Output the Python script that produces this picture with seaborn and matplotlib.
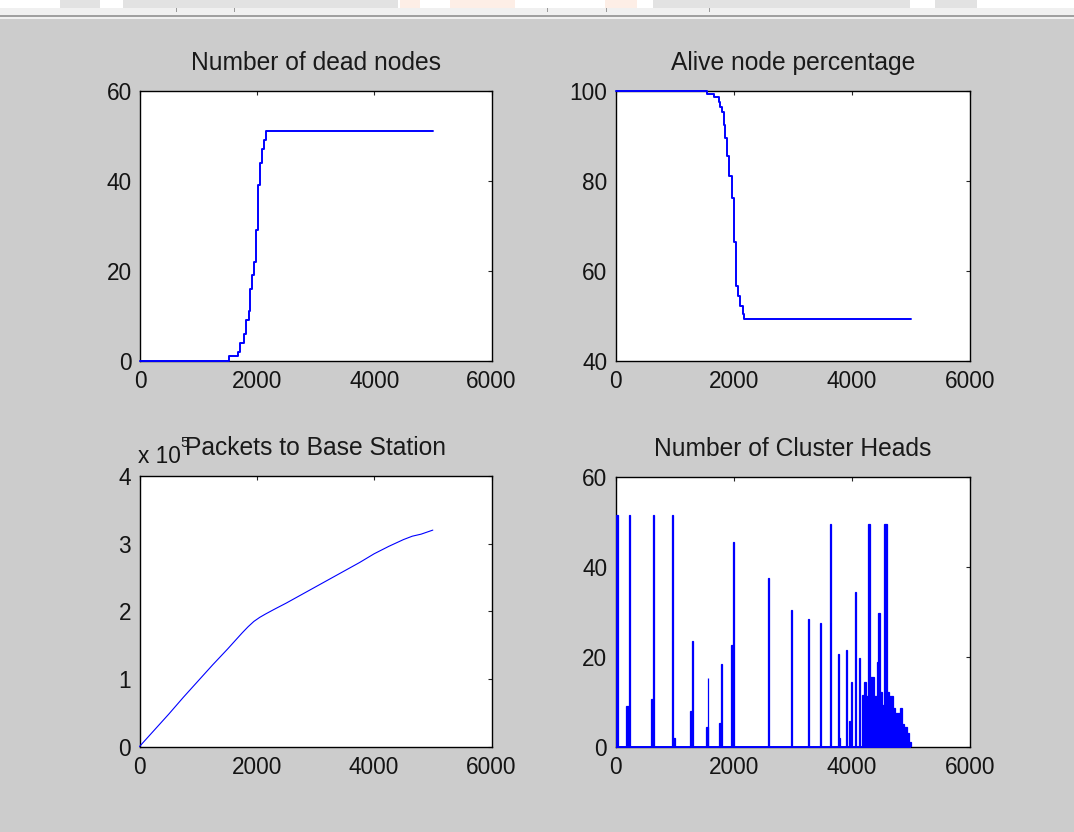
import matplotlib
matplotlib.use('Agg')
import matplotlib.pyplot as plt
import seaborn as sns
from matplotlib.patches import Rectangle
from matplotlib.ticker import FuncFormatter

# values (rounds 0..5000)
dead_round = [0, 1514, 1674, 1714, 1771, 1811, 1857, 1886, 1914, 1943, 1977, 2011, 2046, 2086, 2114, 2149, 5000]
dead_count = [0, 1, 2, 4, 6, 9, 11, 16, 19, 22, 29, 39, 44, 47, 49, 51, 51]

alive_round = [0, 1549, 1673, 1746, 1775, 1803, 1831, 1859, 1887, 1915, 1972, 2000, 2039, 2073, 2113, 2152, 2180, 5000]
alive_pct = [100, 99.3, 98.7, 97.6, 96.4, 95.3, 92.4, 89.4, 85.5, 81.1, 76.1, 66.4, 56.5, 54.4, 52.1, 50.4, 49.2, 49.2]

packet_round = [0, 250, 500, 750, 1000, 1250, 1500, 1750, 1850, 1950, 2050, 2150, 2300, 2500, 2750, 3000,
                3250, 3500, 3750, 4000, 4250, 4500, 4650, 4800, 5000]
packet_count = [0, 24000, 48000, 73000, 97000, 121000, 144000, 168000, 177000, 185000, 191000, 196000,
                203000, 212000, 224000, 236000, 248000, 260000, 272000, 285000, 296000, 306000, 311000,
                314000, 320000]

# cluster heads: spikes / blocks of consecutive rounds (start round, width in rounds, count)
ch_start = [8, 178, 225, 606, 641, 955, 975, 1262, 1297, 1524, 1559, 1750, 1790, 1953, 1988,
            2575, 2970, 3265, 3460, 3630, 3765, 3785, 3895, 3953, 3987, 4052, 4114,
            4178, 4207, 4241, 4281, 4309, 4382, 4422, 4449, 4478, 4507, 4546, 4602, 4636,
            4704, 4732, 4817, 4851, 4885, 4930, 4969]
ch_width = [40, 45, 15, 35, 15, 15, 35, 35, 15, 35, 15, 40, 15, 35, 15,
            15, 15, 15, 15, 15, 15, 20, 15, 17, 20, 18, 22,
            29, 34, 40, 28, 73, 40, 27, 29, 29, 39, 56, 34, 68,
            28, 85, 34, 34, 45, 39, 29]
ch_count = [51.5, 9, 51.5, 10.5, 51.5, 51.5, 2, 8, 23.5, 4.4, 15.3, 5.3, 18.4, 22.6, 45.6,
            37.5, 30.4, 28.3, 27.4, 49.5, 20.5, 2, 21.5, 5.7, 14.4, 34.3, 19.6,
            11.5, 14.4, 11.3, 49.5, 15.4, 11.3, 18.9, 29.7, 12.2, 9.2, 49.5, 12.2, 11.3,
            8.5, 7.5, 8.5, 5.1, 4.4, 3.0, 1.0]
last_round = 5000

titles = ['Number of dead nodes', 'Alive node percentage', 'Packets to Base Station', 'Number of Cluster Heads']

sns.set_style('white')
plt.rcParams['font.family'] = ['Liberation Sans', 'DejaVu Sans']

W, H = 1074, 832
fig = plt.figure(figsize=(W / 100, H / 100), dpi=100, facecolor='#cccccc')


def px_rect(x, y, w, h, color):
    # rectangle given in screen pixels (y from the top)
    fig.add_artist(Rectangle((x / W, 1 - (y + h) / H), w / W, h / H, transform=fig.transFigure,
                             facecolor=color, edgecolor='none', zorder=0))


# window chrome at the top of the screenshot
px_rect(0, 0, W, 8, 'white')
for x0, w0, c in [(60, 40, '#e2e2e2'), (123, 275, '#e2e2e2'), (400, 20, '#fdeee6'), (450, 65, '#fdeee6'),
                  (605, 32, '#fdeee6'), (653, 257, '#e2e2e2'), (935, 42, '#e2e2e2')]:
    px_rect(x0, 0, w0, 8, c)
px_rect(0, 8, W, 8, '#f0f0f0')
px_rect(0, 15, W, 1.5, '#a0a0a0')
px_rect(0, 16.5, W, 2, '#f0f0f0')
for x0 in [176, 234, 547, 606, 709]:
    px_rect(x0, 8, 1, 4, '#9a9a9a')


def px_axes(left, top, right, bottom):
    return fig.add_axes([left / W, 1 - bottom / H, (right - left) / W, (bottom - top) / H])


ax1 = px_axes(140, 90.7, 491.5, 360.7)
ax2 = px_axes(615.5, 90.7, 970, 360.7)
ax3 = px_axes(139.5, 476, 491.5, 746.5)
ax4 = px_axes(615.5, 477, 970, 746.5)

sns.lineplot(x=dead_round, y=dead_count, ax=ax1, color='blue', linewidth=1.4,
             drawstyle='steps-post', zorder=3, clip_on=False)
sns.lineplot(x=alive_round, y=alive_pct, ax=ax2, color='blue', linewidth=1.4,
             drawstyle='steps-post', zorder=3, clip_on=False)
sns.lineplot(x=packet_round, y=packet_count, ax=ax3, color='blue', linewidth=0.8,
             zorder=3, clip_on=False)
ax4.bar(ch_start, ch_count, width=ch_width, align='edge', color='blue', edgecolor='blue',
        linewidth=0.9, zorder=3)
ax4.hlines(0, 0, last_round, color='blue', linewidth=1.4, zorder=3, clip_on=False)

ylims = [(0, 60), (40, 100), (0, 400000), (0, 60)]
yticks = [[0, 20, 40, 60], [40, 60, 80, 100], [0, 100000, 200000, 300000, 400000], [0, 20, 40, 60]]

for ax, t, yl, yt in zip([ax1, ax2, ax3, ax4], titles, ylims, yticks):
    ax.set_facecolor('white')
    ax.set_xlim(0, 6000)
    ax.set_xticks([0, 2000, 4000, 6000])
    ax.set_ylim(*yl)
    ax.set_yticks(yt)
    ax.set_title(t, fontsize=17.7, color='#1a1a1a', pad=15)
    ax.tick_params(direction='in', length=3, width=0.8, top=True, right=True,
                   labelsize=16.3, labelcolor='#141414')
    ax.tick_params(axis='x', pad=7)
    ax.tick_params(axis='y', pad=6)
    for s in ax.spines.values():
        s.set_visible(True)
        s.set_color('black')
        s.set_linewidth(1.0)

ax3.yaxis.set_major_formatter(FuncFormatter(lambda v, p: f'{v / 1e5:g}'))
ax3.text(-0.003, 1.047, 'x 10', transform=ax3.transAxes, fontsize=16.3, color='#141414',
         ha='left', va='baseline')
ax3.text(0.115, 1.107, '5', transform=ax3.transAxes, fontsize=11, color='#141414',
         ha='left', va='baseline')

fig.savefig('out.png', dpi=100, facecolor=fig.get_facecolor())
